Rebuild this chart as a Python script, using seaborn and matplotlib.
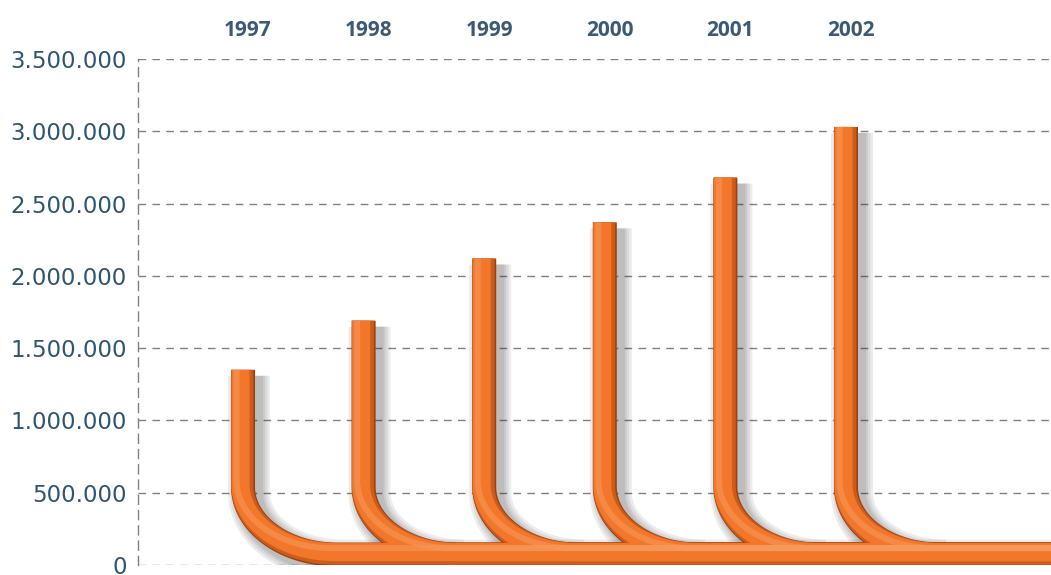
import matplotlib
matplotlib.use("Agg")
import matplotlib.pyplot as plt
import matplotlib.patheffects as pe
from matplotlib.ticker import FuncFormatter
from matplotlib.transforms import ScaledTranslation
import numpy as np
import pandas as pd
import seaborn as sns

years = ["1997", "1998", "1999", "2000", "2001", "2002"]
totals = [1350000, 1690000, 2120000, 2370000, 2680000, 3030000]
y_ticks = [0, 500000, 1000000, 1500000, 2000000, 2500000, 3000000, 3500000]

# pipe shape (style only)
BEND_Y = 540000
BASE_Y = 72000
BEND_DX = 0.78
PIPE_END = 9.0
PX = 0.72  # points per pixel at dpi 100
Y_PER_PX = 3500000 / 506


def pipe_path(pos, top, end):
    t = np.linspace(0, np.pi / 2, 50)
    xs = pos + BEND_DX - BEND_DX * np.cos(t)
    ys = BEND_Y - (BEND_Y - BASE_Y) * np.sin(t)
    x = np.concatenate([[pos], xs, [end]])
    y = np.concatenate([[top], ys, [BASE_Y]])
    return x, y


def build_paths(top_shift=0.0, trim=False):
    frames = []
    for i, (year, top) in enumerate(zip(years, totals)):
        end = i + 1 + BEND_DX if (trim and i < len(years) - 1) else PIPE_END
        x, y = pipe_path(i, top - top_shift, end)
        frames.append(pd.DataFrame({"x": x, "y": y, "year": year}))
    return pd.concat(frames, ignore_index=True)


def draw_layer(ax, width_px, color, dx_px=0.0, dy_px=0.0, alpha=1.0,
               trim=False, shift_top=True):
    df = build_paths(dy_px * Y_PER_PX if shift_top else 0.0, trim)
    sns.lineplot(
        data=df, x="x", y="y", units="year", estimator=None, sort=False,
        ax=ax, color=color, legend=False,
        solid_capstyle="butt", solid_joinstyle="round", zorder=3,
        path_effects=[pe.Stroke(offset=(dx_px * PX, dy_px * PX),
                                linewidth=width_px * PX,
                                foreground=color, alpha=alpha)],
    )


def main():
    sns.set_theme(style="white")
    plt.rcParams["font.family"] = ["DejaVu Sans"]

    fig = plt.figure(figsize=(10.51, 5.75), dpi=100)
    ax = fig.add_axes([138 / 1051, 10 / 575, 1 - 138 / 1051, 506 / 575])

    # soft shadow
    for w in [42, 37, 32, 28]:
        draw_layer(ax, w, "#2a2a2a", dx_px=6, dy_px=-6, alpha=0.085,
                   trim=True, shift_top=False)
    # tube shading
    draw_layer(ax, 24, "#9a4312")
    draw_layer(ax, 22, "#cc5c1b", dx_px=-0.7, dy_px=0.7)
    draw_layer(ax, 18, "#f2772a", dx_px=-2.5, dy_px=2.5)
    draw_layer(ax, 6, "#f69a5c", dx_px=-6.5, dy_px=6.5, alpha=0.55)

    ax.set_xlim(-0.871, 6.70)
    ax.set_ylim(0, 3500000)

    ax.xaxis.tick_top()
    ax.set_xticks(range(len(years)))
    ax.set_xticklabels(years, fontweight="bold", fontsize=15, color="#3b5a76",
                       family=["Open Sans", "DejaVu Sans"])
    ax.tick_params(axis="x", length=0, pad=13)
    nudge = ScaledTranslation(5 / 100, 0, fig.dpi_scale_trans)
    for label in ax.get_xticklabels():
        label.set_transform(label.get_transform() + nudge)

    ax.set_yticks(y_ticks)
    ax.yaxis.set_major_formatter(FuncFormatter(lambda v, _: f"{int(v):,}".replace(",", ".")))
    ax.tick_params(axis="y", length=0, pad=8, labelsize=16.5, labelcolor="#2f5574")

    ax.set_xlabel("")
    ax.set_ylabel("")
    ax.set_axisbelow(True)
    ax.grid(axis="y", linestyle=(0, (5.5, 4.5)), color="#808080", linewidth=1.0)
    ax.grid(axis="x", visible=False)

    for side in ["top", "right", "bottom"]:
        ax.spines[side].set_visible(False)
    ax.spines["left"].set_linestyle((0, (6.5, 4.5)))
    ax.spines["left"].set_color("#808080")
    ax.spines["left"].set_linewidth(1.0)

    fig.savefig("out.png", dpi=100)
    plt.close(fig)


if __name__ == "__main__":
    main()
